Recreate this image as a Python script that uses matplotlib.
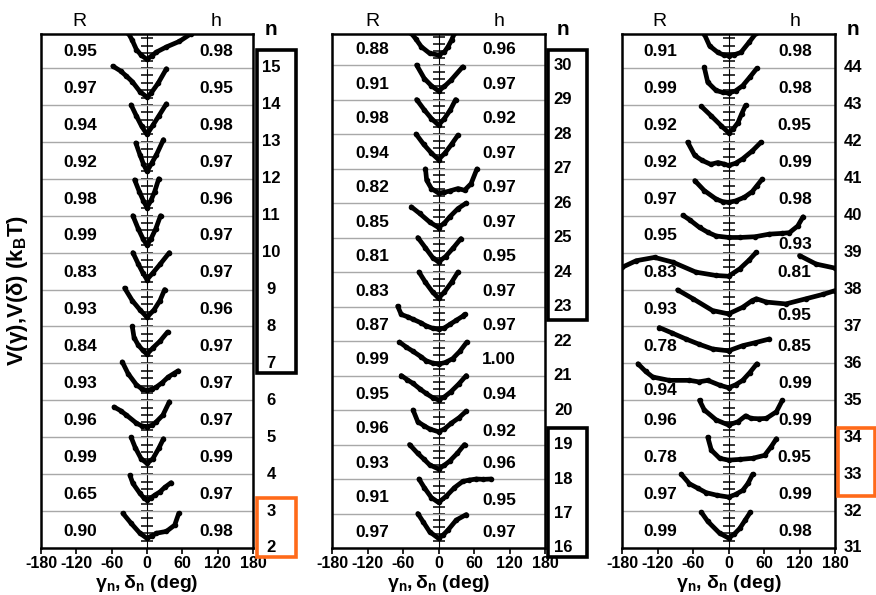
import numpy as np
import matplotlib
matplotlib.use("Agg")
import matplotlib.pyplot as plt
from matplotlib.patches import Rectangle

plt.rcParams['font.family'] = ['Liberation Sans', 'DejaVu Sans']
plt.rcParams['mathtext.fontset'] = 'custom'
plt.rcParams['mathtext.rm'] = 'Liberation Sans'
plt.rcParams['mathtext.it'] = 'Liberation Sans:italic'
plt.rcParams['mathtext.bf'] = 'Liberation Sans:bold'

nan = np.nan

# ---- data (rows listed top to bottom) ----
n1 = [15, 14, 13, 12, 11, 10, 9, 8, 7, 6, 5, 4, 3, 2]
R1 = ["0.95", "0.97", "0.94", "0.92", "0.98", "0.99", "0.83", "0.93", "0.84", "0.93", "0.96", "0.99", "0.65", "0.90"]
h1 = ["0.98", "0.95", "0.98", "0.97", "0.96", "0.97", "0.97", "0.96", "0.97", "0.97", "0.97", "0.99", "0.97", "0.98"]
curves1 = [
    ([-32, -25, -18, -10, 0, 8, 16, 33, 55, 75], [0.95, 0.75, 0.5, 0.35, 0.23, 0.33, 0.43, 0.57, 0.72, 0.93]),
    ([-58, -45, -35, -25, -12, 0, 7, 19, 33], [1.05, 0.92, 0.78, 0.63, 0.36, 0.21, 0.32, 0.59, 0.98]),
    ([-27, -18, -9, 0, 10, 20, 33], [1.0, 0.7, 0.42, 0.2, 0.45, 0.7, 1.03]),
    ([-19, -12, -6, 0, 8, 16, 28], [0.97, 0.65, 0.4, 0.2, 0.42, 0.65, 1.06]),
    ([-21, -13, -6, 0, 7, 13, 20], [0.97, 0.65, 0.4, 0.22, 0.42, 0.65, 1.0]),
    ([-24, -15, -7, 0, 7, 15, 23], [1.0, 0.65, 0.38, 0.2, 0.38, 0.65, 1.0]),
    ([-24, -15, -7, 0, 10, 22, 38], [1.0, 0.7, 0.45, 0.27, 0.45, 0.68, 1.0]),
    ([-38, -25, -12, 0, 12, 22, 30], [1.04, 0.7, 0.45, 0.25, 0.45, 0.7, 1.0]),
    ([-25, -22, -15, -7, 0, 10, 22, 35], [1.0, 0.7, 0.5, 0.35, 0.25, 0.42, 0.6, 0.85]),
    ([-42, -32, -18, -8, 0, 8, 16, 26, 36, 45, 53], [1.04, 0.72, 0.42, 0.3, 0.27, 0.3, 0.36, 0.48, 0.63, 0.72, 0.8]),
    ([-56, -45, -35, -18, -8, 0, 8, 16, 27, 38], [0.82, 0.72, 0.6, 0.38, 0.3, 0.29, 0.32, 0.42, 0.6, 0.96]),
    ([-27, -20, -10, 0, 10, 20, 28], [1.0, 0.72, 0.42, 0.29, 0.42, 0.7, 0.96]),
    ([-29, -24, -12, -5, 0, 6, 13, 22, 30, 41], [0.97, 0.75, 0.48, 0.35, 0.3, 0.35, 0.43, 0.52, 0.64, 0.77]),
    ([-41, -27, -12, 0, 8, 16, 33, 47, 54], [0.94, 0.67, 0.4, 0.26, 0.33, 0.4, 0.45, 0.62, 0.94]),
]

n2 = [30, 29, 28, 27, 26, 25, 24, 23, 22, 21, 20, 19, 18, 17, 16]
R2 = ["0.88", "0.91", "0.98", "0.94", "0.82", "0.85", "0.81", "0.83", "0.87", "0.99", "0.95", "0.96", "0.93", "0.91", "0.97"]
h2 = ["0.96", "0.97", "0.92", "0.97", "0.97", "0.97", "0.95", "0.97", "0.97", "1.00", "0.94", "0.92", "0.96", "0.95", "0.97"]
curves2 = [
    ([-46, -38, -29, -15, 0, 10, 16, 22, 27], [0.92, 0.75, 0.53, 0.34, 0.29, 0.38, 0.53, 0.72, 0.92]),
    ([-37, -24, -12, 0, 10, 21, 41], [1.0, 0.61, 0.4, 0.25, 0.38, 0.56, 0.95]),
    ([-37, -24, -12, 0, 10, 20, 29], [1.0, 0.7, 0.45, 0.26, 0.45, 0.7, 1.0]),
    ([-38, -25, -12, 0, 11, 22, 33], [1.0, 0.7, 0.45, 0.26, 0.45, 0.7, 0.97]),
    ([-22, -20, -12, 0, 10, 19, 33, 44, 55, 65], [0.99, 0.66, 0.42, 0.29, 0.31, 0.35, 0.42, 0.37, 0.56, 0.99]),
    ([-46, -32, -15, 0, 10, 19, 33, 47], [0.89, 0.7, 0.45, 0.29, 0.42, 0.6, 0.84, 1.0]),
    ([-35, -22, -10, 0, 12, 25, 38], [1.0, 0.7, 0.42, 0.29, 0.45, 0.7, 0.97]),
    ([-33, -22, -10, 0, 10, 22, 33], [1.0, 0.7, 0.42, 0.24, 0.42, 0.7, 1.0]),
    ([-69, -63, -52, -43, -30, -21, -10, 0, 10, 19, 30, 41, 44], [1.01, 0.77, 0.7, 0.63, 0.53, 0.44, 0.37, 0.34, 0.38, 0.48, 0.6, 0.72, 0.77]),
    ([-66, -55, -43, -30, -21, -10, 0, 12, 24, 36, 48], [0.97, 0.83, 0.7, 0.55, 0.43, 0.36, 0.33, 0.38, 0.49, 0.7, 0.97]),
    ([-63, -53, -43, -32, -21, -10, 0, 10, 21, 34, 47], [1.0, 0.88, 0.77, 0.62, 0.48, 0.36, 0.29, 0.38, 0.53, 0.75, 1.0]),
    ([-43, -35, -25, -15, 0, 10, 21, 35, 47], [1.0, 0.66, 0.55, 0.45, 0.37, 0.45, 0.61, 0.78, 0.97]),
    ([-49, -35, -25, -15, 0, 10, 19, 32, 44], [1.0, 0.74, 0.58, 0.41, 0.29, 0.4, 0.52, 0.75, 1.0]),
    ([-33, -24, -12, 0, 13, 27, 41, 52, 64, 76, 89], [1.0, 0.75, 0.46, 0.32, 0.5, 0.75, 0.93, 0.97, 1.0, 0.99, 1.0]),
    ([-35, -26, -15, 0, 8, 16, 30, 47], [1.0, 0.76, 0.47, 0.28, 0.38, 0.52, 0.81, 0.97]),
]

n3 = [44, 43, 42, 41, 40, 39, 38, 37, 36, 35, 34, 33, 32, 31]
R3 = ["0.91", "0.99", "0.92", "0.92", "0.97", "0.95", "0.83", "0.93", "0.78", "0.94", "0.96", "0.78", "0.97", "0.99"]
h3 = ["0.98", "0.98", "0.95", "0.99", "0.98", "0.93", "0.81", "0.95", "0.85", "0.99", "0.99", "0.95", "0.99", "0.98"]
curves3 = [
    ([-41, -32, -18, -8, 0, 10, 21, 35, 47], [0.92, 0.6, 0.42, 0.35, 0.33, 0.36, 0.42, 0.7, 0.95]),
    ([-41, -35, -21, -10, 0, 12, 24, 36, 48], [1.02, 0.61, 0.39, 0.34, 0.32, 0.38, 0.52, 0.75, 0.99]),
    ([-46, -29, -12, 0, 8, 16, 22, 29], [0.96, 0.7, 0.43, 0.25, 0.35, 0.52, 0.75, 0.99]),
    ([-69, -57, -45, -30, -18, -8, 0, 12, 24, 40, 55], [0.99, 0.63, 0.5, 0.39, 0.44, 0.4, 0.36, 0.42, 0.54, 0.75, 0.99]),
    ([-57, -41, -21, -10, 0, 12, 27, 40, 48, 57], [0.95, 0.68, 0.45, 0.38, 0.36, 0.4, 0.5, 0.65, 0.81, 0.99]),
    ([-77, -65, -49, -35, -21, 0, 20, 45, 69, 90, 103, 117, 126], [1.01, 0.88, 0.68, 0.55, 0.45, 0.41, 0.41, 0.43, 0.5, 0.52, 0.54, 0.72, 0.97]),
    ([-180, -156, -125, -94, -55, -21, 0, 19, 35, 47, nan, 120, 148, 180], [0.6, 0.78, 0.87, 0.74, 0.47, 0.38, 0.36, 0.56, 0.8, 1.01, nan, 0.92, 0.69, 0.58]),
    ([-86, -60, -27, 0, 24, 40, 47, 64, 97, 131, 160, 180], [0.99, 0.75, 0.43, 0.34, 0.52, 0.7, 0.75, 0.66, 0.61, 0.75, 0.87, 0.97]),
    ([-117, -95, -72, -50, -27, 0, 24, 45, 69], [0.97, 0.82, 0.66, 0.52, 0.39, 0.34, 0.48, 0.56, 0.66]),
    ([-153, -140, -128, -100, -66, -50, -35, -15, 0, 12, 24, 36, 48], [0.99, 0.78, 0.63, 0.54, 0.54, 0.5, 0.54, 0.41, 0.34, 0.42, 0.54, 0.75, 0.99]),
    ([-49, -41, -21, 0, 16, 29, 38, 52, 64, 81, 91], [1.0, 0.74, 0.47, 0.33, 0.42, 0.58, 0.51, 0.5, 0.51, 0.69, 1.0]),
    ([-35, -29, -15, 0, 20, 41, 61, 72, 81], [1.0, 0.65, 0.43, 0.38, 0.4, 0.43, 0.51, 0.74, 0.96]),
    ([-80, -66, -52, -38, -20, 0, 12, 24, 33, 41], [1.0, 0.74, 0.62, 0.5, 0.43, 0.38, 0.45, 0.56, 0.75, 1.0]),
    ([-46, -35, -15, 0, 10, 19, 28, 37], [0.97, 0.72, 0.4, 0.27, 0.38, 0.53, 0.75, 0.97]),
]

xticks = [-180, -120, -60, 0, 60, 120, 180]

W, H = 876, 595
fig = plt.figure(figsize=(W / 100, H / 100), dpi=100)


def fig_box(x0, y0, x1, y1):
    # pixel box (top-left origin) -> figure fraction rect
    return [x0 / W, 1 - y1 / H, (x1 - x0) / W, (y1 - y0) / H]


def draw_panel(rect, n, R, h, curves, ytop, xR, xh, xlabel, h_off=None, R_off=None):
    ax = fig.add_axes(rect)
    nrows = len(n)
    ax.set_xlim(-180, 180)
    ax.set_ylim(0, ytop)
    for k in range(1, nrows):
        ax.axhline(k, color='#a8a8a8', lw=1.0, zorder=1)
    for i, (xs, ys) in enumerate(curves):
        base = nrows - 1 - i
        ax.plot(xs, np.array(ys) + base, color='black', lw=3.4, marker='o', ms=3.0,
                solid_capstyle='round', solid_joinstyle='round', zorder=3)
        yr = base + (R_off or {}).get(i, 0.45)
        yh = base + (h_off or {}).get(i, 0.45)
        ax.text(xR, yr, R[i], ha='center', va='center', fontsize=12.5, fontweight='bold')
        ax.text(xh, yh, h[i], ha='center', va='center', fontsize=12.5, fontweight='bold')
        ax.text(1.085, nrows - 1 - i, str(n[i]), transform=ax.get_yaxis_transform(),
                ha='center', va='center', fontsize=12, fontweight='bold', clip_on=False)

    # centre axis with small tick crosses
    sec = ax.secondary_yaxis(0.5)
    sec.set_yticks(np.arange(0.2, ytop, 0.2))
    sec.tick_params(direction='inout', length=8, width=1.1, labelleft=False, labelright=False)
    sec.spines['left'].set_linewidth(1.5)

    ax.set_yticks([])
    ax.set_xticks(xticks)
    ax.set_xticklabels([str(v) for v in xticks], fontsize=11.5, fontweight='bold')
    ax.tick_params(axis='x', direction='out', length=4, width=1.2, pad=2)
    for s in ax.spines.values():
        s.set_linewidth(1.8)

    tr = ax.get_xaxis_transform()
    ax.text(xR, 1.016, 'R', transform=tr, ha='center', va='baseline', fontsize=14)
    ax.text(xh, 1.016, 'h', transform=tr, ha='center', va='baseline', fontsize=14)
    ax.text(1.085, 0.999, 'n', transform=ax.transAxes, ha='center', va='baseline',
            fontsize=15, fontweight='bold')
    cx = rect[0] + rect[2] / 2
    fig.text(cx, 1 - 583 / H, xlabel, ha='center', va='center', fontsize=14, fontweight='bold')
    return ax


lab12 = r'$\mathregular{\gamma_n,\delta_n}$ (deg)'
lab3 = r'$\mathregular{\gamma_n}$, $\mathregular{\delta_n}$ (deg)'

draw_panel(fig_box(41, 34, 253, 548), n1, R1, h1, curves1, 13.92, -114, 118, lab12)
draw_panel(fig_box(332, 34, 545, 548), n2, R2, h2, curves2, 14.9, -112, 102, lab12,
           h_off={11: 0.37, 13: 0.38})
draw_panel(fig_box(622, 34, 835, 548), n3, R3, h3, curves3, 13.92, -116, 112, lab3,
           h_off={5: 0.23, 7: 0.29}, R_off={9: 0.27})

fig.text(18 / W, 1 - 290 / H, r'V($\mathregular{\gamma}$),V($\mathregular{\delta}$) (k$_\mathregular{B}$T)',
         rotation=90, ha='center', va='center', fontsize=16, fontweight='bold')

# highlight boxes around n groups
orange = '#ff6a1a'
for (x0, y0, x1, y1), col in [((257, 50, 296, 373), 'black'), ((257, 498, 296, 557), orange),
                              ((548, 50, 587, 320), 'black'), ((548, 428, 587, 557), 'black'),
                              ((838, 428, 875, 496), orange)]:
    fig.add_artist(Rectangle(fig_box(x0, y0, x1, y1)[:2], (x1 - x0) / W, (y1 - y0) / H,
                             transform=fig.transFigure, fill=False, ec=col, lw=2.6))

fig.savefig('out.png', dpi=100)
